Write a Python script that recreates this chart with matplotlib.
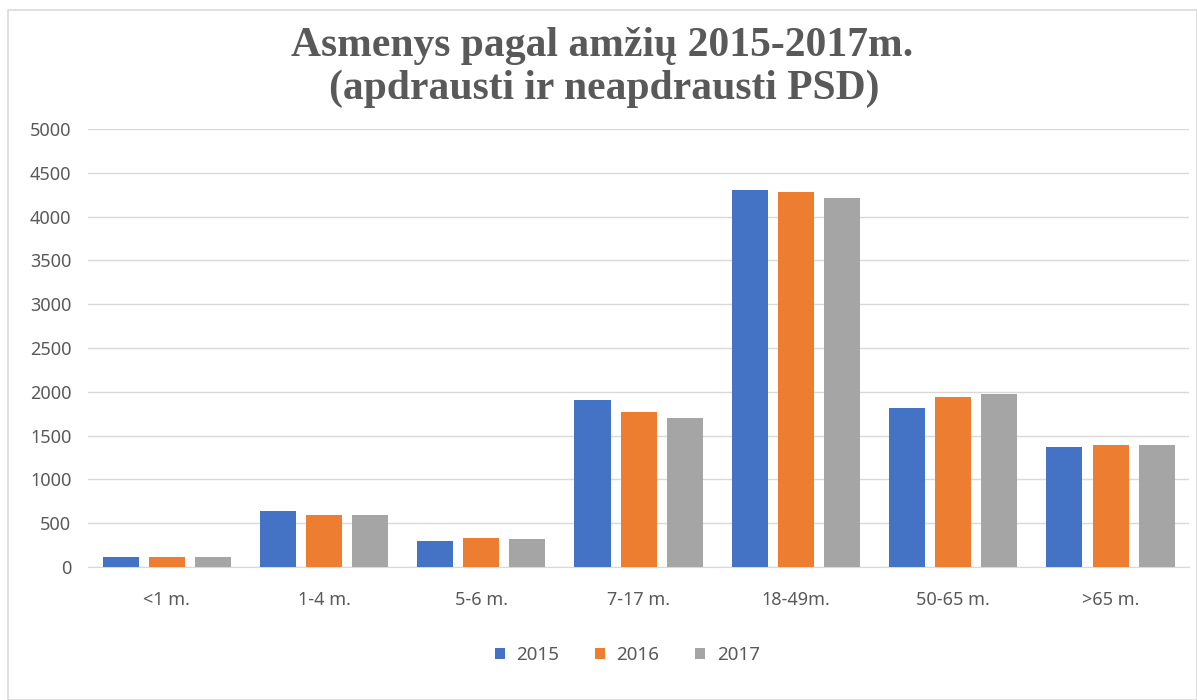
import numpy as np
import matplotlib.pyplot as plt
from matplotlib.patches import Rectangle

# data
categories = ["<1 m.", "1-4 m.", "5-6 m.", "7-17 m.", "18-49m.", "50-65 m.", ">65 m."]
years = ["2015", "2016", "2017"]
v2015 = [118, 640, 300, 1903, 4309, 1812, 1373]
v2016 = [118, 595, 330, 1766, 4283, 1945, 1396]
v2017 = [118, 595, 325, 1698, 4214, 1972, 1396]
colors = ["#4472C4", "#ED7D31", "#A5A5A5"]

plt.rcParams["font.family"] = ["Noto Sans", "DejaVu Sans"]

fig = plt.figure(figsize=(11.97, 7), dpi=100)
ax = fig.add_axes([0.0735, 0.19, 0.92, 0.6257])

# chart border
fig.patches.append(Rectangle((8 / 1197, 0), 1 - 8 / 1197, 1 - 10 / 700,
                             transform=fig.transFigure, fill=False,
                             edgecolor="#d9d9d9", linewidth=1.2))

x = np.arange(len(categories))
width = 0.229
step = 0.293
for i, (vals, yr) in enumerate(zip([v2015, v2016, v2017], years)):
    ax.bar(x + (i - 1) * step, vals, width, color=colors[i], label=yr, zorder=3)

ax.set_xlim(-0.5, len(categories) - 0.5)
ax.set_ylim(0, 5000)
ax.set_yticks(np.arange(0, 5001, 500))
ax.set_xticks(x)
ax.set_xticklabels(categories)
ax.grid(axis="y", color="#d9d9d9", linewidth=1, zorder=0)
for s in ["top", "right", "left"]:
    ax.spines[s].set_visible(False)
ax.spines["bottom"].set_color("#d9d9d9")
ax.tick_params(length=0, colors="#595959", labelsize=13)
ax.tick_params(axis="x", pad=17)
ax.tick_params(axis="y", pad=12)

# title, two lines placed by baseline
title_kw = dict(ha="center", va="baseline", fontsize=30, fontweight="bold",
                family="Liberation Serif", color="#595959")
fig.text(0.503, 1 - 56 / 700, "Asmenys pagal amžių 2015-2017m.", **title_kw)
fig.text(0.505, 1 - 99 / 700, "(apdrausti ir neapdrausti PSD)", **title_kw)

fig.legend(loc="center", bbox_to_anchor=(0.524, 1 - 655 / 700), ncol=3, frameon=False,
           fontsize=13.5, handlelength=0.55, handleheight=0.55, handletextpad=0.6,
           columnspacing=1.9, labelcolor="#595959")

plt.savefig("out.png", dpi=100)
